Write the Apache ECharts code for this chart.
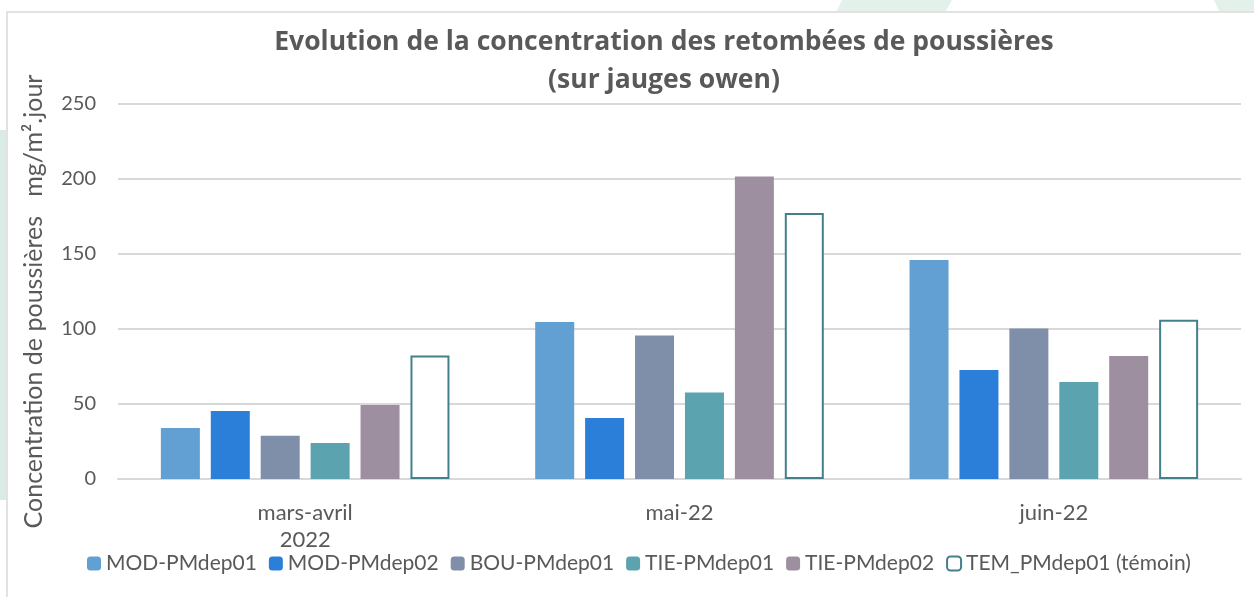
<!DOCTYPE html>
<html>
<head>
<meta charset="utf-8">
<script src="https://cdn.jsdelivr.net/npm/echarts@6/dist/echarts.min.js"></script>
<style>
html, body { margin: 0; padding: 0; background: #fff; }
#main { width: 1254px; height: 597px; }
</style>
</head>
<body>
<div id="main"></div>
<script>
var categories = ['mars-avril\n2022', 'mai-22', 'juin-22'];
var seriesNames = ['MOD-PMdep01', 'MOD-PMdep02', 'BOU-PMdep01', 'TIE-PMdep01', 'TIE-PMdep02', 'TEM_PMdep01 (témoin)'];
var modDep01 = [34, 104.7, 146];
var modDep02 = [45.3, 40.7, 72.7];
var bouDep01 = [28.9, 95.7, 100.4];
var tieDep01 = [24, 57.7, 64.7];
var tieDep02 = [49.3, 201.7, 82];
var temDep01 = [82.4, 177.3, 106.2];
var yTicks = [0, 50, 100, 150, 200, 250];

var colors = ['#629fd2', '#2b7fd8', '#7f8fa9', '#5ba3af', '#9e8fa0'];
var allData = [modDep01, modDep02, bouDep01, tieDep01, tieDep02, temDep01];

var myChart = echarts.init(document.getElementById('main'));

var series = allData.map(function (d, i) {
    var s = {
        name: seriesNames[i],
        type: 'bar',
        data: d,
        barWidth: 39,
        barGap: '28%',
        itemStyle: { color: colors[i] }
    };
    if (i == 5) {
        s.itemStyle = { color: '#ffffff', borderColor: '#43808a', borderWidth: 2 };
    }
    return s;
});

// background leftovers around the chart frame
var deco = [
    { type: 'rect', shape: { x: 0, y: 130, width: 6, height: 370 }, style: { fill: '#d8ece3' }, z: -2 },
    { type: 'polygon', shape: { points: [[842, 0], [952, 0], [946, 11], [837, 11]] }, style: { fill: '#e3f1ea' }, z: -2 },
    { type: 'polygon', shape: { points: [[1214, 0], [1254, 0], [1254, 11], [1219, 11]] }, style: { fill: '#e3f1ea' }, z: -2 },
    { type: 'rect', shape: { x: 7, y: 12, width: 1260, height: 600 },
      style: { fill: 'none', stroke: '#d9d9d9', lineWidth: 1.5 }, z: -1 }
];

var option = {
    textStyle: { fontFamily: 'Lato' },
    graphic: deco,
    title: {
        text: 'Evolution de la concentration des retombées de poussières\n(sur jauges owen)',
        left: 659,
        top: 18,
        textAlign: 'center',
        textStyle: {
            fontFamily: 'Open Sans',
            fontSize: 26.5,
            fontWeight: 'bold',
            color: '#595959',
            lineHeight: 38
        }
    },
    legend: {
        data: seriesNames,
        left: 82,
        top: 548,
        itemWidth: 14,
        itemHeight: 14,
        itemGap: 12,
        textStyle: { fontFamily: 'Lato', fontSize: 21, color: '#595959' }
    },
    grid: { left: 118, right: 13, top: 104, bottom: 118 },
    xAxis: {
        type: 'category',
        data: categories,
        axisTick: { show: false },
        axisLine: { lineStyle: { color: '#d9d9d9', width: 2 } },
        axisLabel: { fontFamily: 'Lato', fontSize: 22, color: '#595959', margin: 20, lineHeight: 27 }
    },
    yAxis: {
        type: 'value',
        min: yTicks[0],
        max: yTicks[yTicks.length - 1],
        interval: 50,
        name: 'Concentration de poussières   mg/m².jour',
        nameLocation: 'middle',
        nameGap: 72,
        nameTextStyle: { fontFamily: 'Lato', fontSize: 25, color: '#595959', padding: [0, 20, 0, 0] },
        axisLine: { show: false },
        axisTick: { show: false },
        axisLabel: { fontFamily: 'Lato', fontSize: 20, color: '#595959', margin: 22 },
        splitLine: { lineStyle: { color: '#d9d9d9', width: 2 } }
    },
    series: series
};
myChart.setOption(option);
</script>
</body>
</html>
